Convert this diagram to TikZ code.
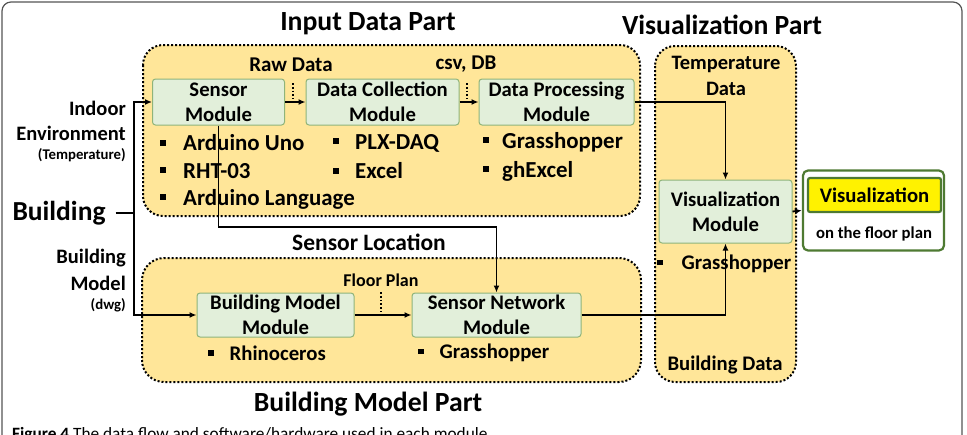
\documentclass[tikz,border=0pt]{standalone}
\usepackage{fontspec}
\setmainfont{Carlito}
\usetikzlibrary{arrows.meta}
\definecolor{grpfill}{HTML}{FFE699}
\definecolor{modfill}{HTML}{E2EFDA}
\definecolor{moddraw}{HTML}{8FB47A}
\definecolor{outdraw}{HTML}{4E7A32}
\definecolor{framecol}{HTML}{555555}
\newcommand{\fs}[1]{\fontsize{#1}{#1}\selectfont\bfseries}
\newcommand{\fsl}[2]{\fontsize{#1}{#2}\selectfont\bfseries}
\newcommand{\bul}[1]{\raisebox{0.22em}{\rule{#1}{#1}}}
\tikzset{
  grp/.style={draw=black, line width=2pt, dotted, fill=grpfill},
  modbox/.style={draw=moddraw, line width=1pt, fill=modfill, rounded corners=3pt, inner sep=0pt, align=center, font=\fsl{20.7}{25}},
  title/.style={inner sep=0pt, font=\fs{27.7}},
  lbl/.style={inner sep=0pt, font=\fs{20.5}},
  side/.style={inner sep=0pt, anchor=east, font=\fs{20.5}},
  sidesmall/.style={inner sep=0pt, anchor=east, font=\fs{14.8}},
  item/.style={inner sep=0pt, anchor=west, font=\fs{22.9}},
  itemsm/.style={inner sep=0pt, anchor=west, font=\fs{20.8}},
  conn/.style={draw=black, line width=1.8pt},
  arr/.style={conn, -{Latex[length=7pt,width=6pt]}},
  tick/.style={draw=black, line width=1.8pt, dotted},
}
\begin{document}
\begin{tikzpicture}[x=1pt, y=-1pt]
\useasboundingbox (0,0) rectangle (967,434);
\clip (0,0) rectangle (967,434);
% outer frame
\draw[framecol, line width=1.2pt, rounded corners=9pt] (2,2) rectangle (962,460);
% groups
\draw[grp, rounded corners=20pt] (143,45) rectangle (640,216);
\draw[grp, rounded corners=22pt] (142,258) rectangle (641,382);
\draw[grp, rounded corners=20pt] (655,46) rectangle (796,382);
% titles
\node[title] (tin) at (368,24) {Input Data Part};
\node[title] (tvis) at (722,25) {Visualization Part};
\node[title] (tbm) at (368,404) {Building Model Part};
% modules
\node[modbox, minimum width=132pt, minimum height=46pt] (sensor) at (218.5,102) {Sensor\\Module};
\node[modbox, minimum width=153pt, minimum height=46pt] (coll) at (382.5,102) {Data Collection\\Module};
\node[modbox, minimum width=155pt, minimum height=46pt] (proc) at (556.5,102) {Data Processing\\Module};
\node[modbox, minimum width=157pt, minimum height=44pt] (bm) at (275.5,315) {Building Model\\Module};
\node[modbox, minimum width=169pt, minimum height=44pt] (sn) at (496.5,315) {Sensor Network\\Module};
\node[modbox, minimum width=133pt, minimum height=63pt] (vis) at (725.5,211.5) {Visualization\\Module};
% output
\node[draw=outdraw, line width=2.2pt, fill=white, rounded corners=5pt, minimum width=141pt, minimum height=80pt, inner sep=0pt] (out) at (873.5,210.5) {};
\node[draw=outdraw, line width=2.2pt, fill=yellow, rounded corners=2pt, minimum width=133pt, minimum height=34pt, inner sep=0pt, font=\fs{20.7}] (outv) at (874.5,195) {Visualization};
\node[inner sep=0pt, font=\fs{16.7}] (floor) at (874,234) {on the floor plan};
% labels
\node[lbl, font=\fs{21}] (raw) at (291,65) {Raw Data};
\node[lbl, font=\fs{21}] (csv) at (466,64) {csv, DB};
\node[lbl, font=\fs{18}] (fp) at (381,280) {Floor Plan};
\node[lbl, font=\fs{23.5}] (sloc) at (369,242) {Sensor Location};
\node[inner sep=0pt, align=center, font=\fsl{20.5}{26}] (tdata) at (726,76) {Temperature\\Data};
\node[inner sep=0pt, font=\fs{20.7}] (bdata) at (725,365) {Building Data};
% side labels
\node[side] (indoor) at (126,108) {Indoor};
\node[side] (env) at (126,133) {Environment};
\node[sidesmall] (temp) at (126,155) {(Temperature)};
\node[inner sep=0pt, font=\fs{27.5}] (bld) at (59,213) {Building};
\node[side] (bld2) at (126,258) {Building};
\node[side] (model) at (126,283) {Model};
\node[sidesmall] (dwg) at (126,305) {(dwg)};
% bullet items
\node[item] (i1) at (160,143) {\bul{6pt}\hspace{17pt}Arduino Uno};
\node[item] (i2) at (160,171) {\bul{6pt}\hspace{17pt}RHT-03};
\node[item] (i3) at (160,199) {\bul{6pt}\hspace{17pt}Arduino Language};
\node[item] (i4) at (333,143) {\bul{6pt}\hspace{16pt}PLX-DAQ};
\node[item] (i5) at (333,171) {\bul{6pt}\hspace{16pt}Excel};
\node[item] (i6) at (483,142) {\bul{6pt}\hspace{13pt}Grasshopper};
\node[item] (i7) at (483,171) {\bul{6pt}\hspace{13pt}ghExcel};
\node[itemsm] (i8) at (208,353) {\bul{5.5pt}\hspace{16pt}Rhinoceros};
\node[itemsm] (i9) at (418,353) {\bul{5.5pt}\hspace{16pt}Grasshopper};
\node[itemsm] (i10) at (657,264) {\bul{5.5pt}\hspace{19pt}Grasshopper};
% coordinates
\coordinate (jn) at (134,213);
\coordinate (bend) at (0,227);
% connectors
\draw[conn] ([xshift=10pt]bld.east) -- (jn);
\draw[arr] (jn) |- (sensor.west);
\draw[arr] (jn) |- (bm.west);
\draw[arr] (sensor.east) -- (coll.west);
\draw[arr] (coll.east) -- (proc.west);
\draw[arr] (proc.east) -| (vis.north);
\draw[arr] (sensor.south) -- (sensor.south |- bend) -| (sn.north);
\draw[arr] (bm.east) -- (sn.west);
\draw[arr] (sn.east) -| (vis.south);
\draw[arr] (vis.east) -- (out.west);
% dotted ticks
\draw[tick] (293,83) -- (293,99);
\draw[tick] (467,83) -- (467,99);
\draw[tick] (381,292) -- (381,312);
% caption (clipped at the lower edge, as in the reference)
\node[inner sep=0pt, anchor=north west, font=\fontsize{17.3}{17.3}\selectfont] (cap) at (12,427.5) {\textbf{Figure 4} The data flow and software/hardware used in each module};
\end{tikzpicture}
\end{document}
